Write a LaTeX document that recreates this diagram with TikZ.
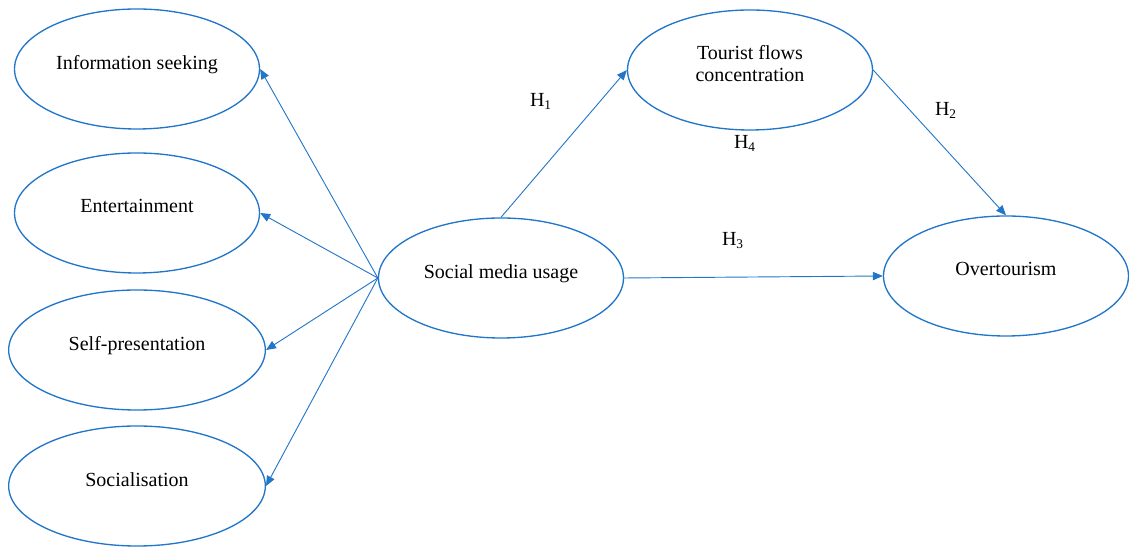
\documentclass[tikz,border=0pt]{standalone}
\usepackage{fontspec}
\setmainfont{Liberation Serif}
\usepackage{tikz}
\usetikzlibrary{arrows.meta,shapes.geometric}
\definecolor{linkblue}{HTML}{2276C9}

\begin{document}
\begin{tikzpicture}[x=0.6pt,y=-0.6pt,
 oval/.style={ellipse,draw=linkblue,line width=0.8pt,align=center,
 font=\fontsize{12}{13}\selectfont,minimum width=147pt,minimum height=72pt,
 inner sep=0pt,text depth=8pt},
 wide/.style={minimum width=154pt},
 link/.style={-{Triangle[length=6pt,width=5pt]},line width=0.55pt,linkblue},
 hyp/.style={font=\fontsize{12}{13}\selectfont}]
\useasboundingbox (0,0) rectangle (1129,548);
\node[oval] (info) at (137,69) {Information seeking};
\node[oval] (fun) at (137,213) {Entertainment};
\node[oval,wide] (self) at (137,350) {Self-presentation};
\node[oval,wide] (social) at (137,486) {Socialisation};
\node[oval] (usage) at (501,278) {Social media usage};
\node[oval] (flows) at (750,70) {Tourist flows\\concentration};
\node[oval] (over) at (1006,276) {Overtourism};
\draw[link] (usage.west) -- (info.east);
\draw[link] (usage.west) -- (fun.east);
\draw[link] (usage.west) -- (self.east);
\draw[link] (usage.west) -- (social.east);
\draw[link] (usage.north) -- (flows.west);
\draw[link] (flows.east) -- (over.north);
\draw[link] (usage.east) -- (over.west);
\node[hyp] (h1) at (541,101) {H\textsubscript{1}};
\node[hyp] (h2) at (946,110) {H\textsubscript{2}};
\node[hyp] (h3) at (733,241) {H\textsubscript{3}};
\node[hyp] (h4) at (745,143) {H\textsubscript{4}};
\end{tikzpicture}
\end{document}
